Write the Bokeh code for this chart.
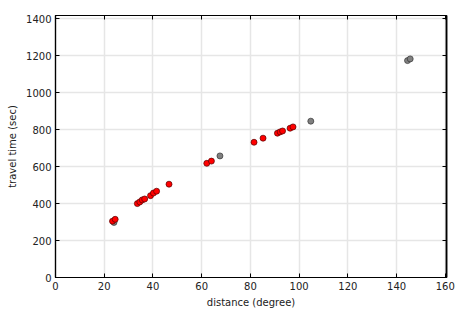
from bokeh.plotting import figure
from bokeh.models import Range1d, FixedTicker, LinearAxis
from bokeh.embed import file_html
from bokeh.resources import INLINE

# red series (distance in degrees, travel time in sec)
red_dist = [23.4, 24.5, 33.6, 34.6, 35.6, 36.6, 39.0, 40.2, 41.5, 46.6,
            62.1, 64.0, 81.5, 85.2, 91.1, 92.2, 93.2, 96.3, 97.5]
red_time = [305, 315, 400, 409, 420, 425, 443, 457, 467, 505,
            618, 630, 732, 754, 781, 788, 793, 808, 815]
# gray series
gray_dist = [24.0, 67.5, 104.8, 144.5, 145.6]
gray_time = [298, 658, 846, 1174, 1183]

x_ticks = [0, 20, 40, 60, 80, 100, 120, 140, 160]
y_ticks = [0, 200, 400, 600, 800, 1000, 1200, 1400]

FONT = "DejaVu Sans"

p = figure(width=465, height=315, output_backend="svg", toolbar_location=None,
           x_range=Range1d(0, 160.5), y_range=Range1d(0, 1418),
           min_border_left=55, min_border_right=19, min_border_top=15, min_border_bottom=38)
p.background_fill_color = "white"
p.border_fill_color = "white"
p.outline_line_color = "black"
p.outline_line_width = 1.2

p.xaxis.ticker = FixedTicker(ticks=x_ticks)
p.yaxis.ticker = FixedTicker(ticks=y_ticks)
p.xaxis.axis_label = "distance (degree)"
p.yaxis.axis_label = "travel time (sec)"

for ax in [p.xaxis[0], p.yaxis[0]]:
    ax.axis_label_text_font = FONT
    ax.axis_label_text_font_size = "10px"
    ax.axis_label_text_font_style = "normal"
    ax.axis_label_text_color = "#222222"
    ax.major_label_text_font = FONT
    ax.major_label_text_font_size = "10px"
    ax.major_label_text_color = "#222222"
    ax.major_tick_in = 4
    ax.major_tick_out = 0
    ax.minor_tick_line_color = None
    ax.axis_line_color = "black"
    ax.axis_line_width = 1.2
    ax.major_tick_line_color = "black"
p.xaxis.major_label_standoff = 4
p.yaxis.major_label_standoff = 4
p.xaxis.axis_label_standoff = 4
p.yaxis.axis_label_standoff = 5

# ticks on top and right (no labels)
top = LinearAxis(ticker=FixedTicker(ticks=x_ticks),
                 major_label_overrides={t: "" for t in x_ticks},
                 major_tick_in=4, major_tick_out=0, minor_tick_line_color=None,
                 axis_line_color="black", major_label_standoff=0)
right = LinearAxis(ticker=FixedTicker(ticks=y_ticks),
                   major_label_overrides={t: "" for t in y_ticks},
                   major_tick_in=4, major_tick_out=0, minor_tick_line_color=None,
                   axis_line_color="black", axis_line_width=1.8, major_label_standoff=0)
p.add_layout(top, "above")
p.add_layout(right, "right")

p.xgrid.ticker = FixedTicker(ticks=x_ticks)
p.ygrid.ticker = FixedTicker(ticks=y_ticks)
p.grid.grid_line_color = "#e6e6e6"
p.grid.grid_line_width = 1.5

p.scatter(gray_dist, gray_time, marker="circle", size=6, fill_color="#808080",
          line_color="#333333", line_width=0.7)
p.scatter(red_dist, red_time, marker="circle", size=6, fill_color="#ff0000",
          line_color="#550000", line_width=0.7)

open("out.html", "w").write(file_html(p, INLINE))
